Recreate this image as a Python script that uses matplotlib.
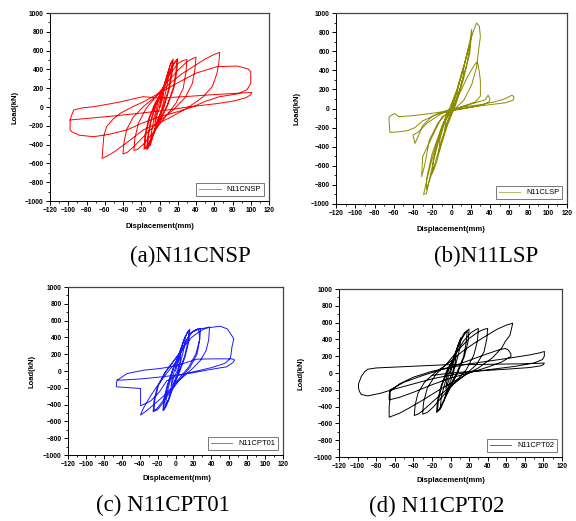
import numpy as np
import matplotlib.pyplot as plt

# ---- hysteresis paths (displacement mm, load kN) ----
loop_a = [
    (0, 0), (3, 110), (5, 190), (4, 110), (1, 10), (-2, -60), (-5, -180), (-4, -90), (-1, 20),
    (3, 130), (7, 270), (10, 390), (9, 270), (6, 120), (2, -40), (-3, -160), (-7, -300), (-10, -410),
    (-9, -280), (-6, -120), (-2, 40),
    (3, 170), (8, 330), (12, 460), (15, 510), (14, 380), (11, 200), (5, 0), (-2, -170), (-8, -330),
    (-12, -430), (-14, -455), (-13, -320), (-10, -160), (-4, 20),
    (3, 160), (8, 320), (12, 450), (14, 490), (13, 370), (10, 190), (4, 0), (-3, -170), (-8, -320),
    (-12, -420), (-13, -440), (-12, -300), (-9, -140), (-4, 30),
    (4, 200), (10, 360), (15, 460), (20, 515), (19, 380), (16, 210), (9, 20), (0, -160), (-8, -320),
    (-14, -420), (-17, -450), (-16, -300), (-12, -130), (-5, 40),
    (4, 180), (10, 340), (16, 460), (19, 500), (18, 370), (15, 200), (8, 10), (-1, -160), (-9, -330),
    (-14, -430), (-16, -440), (-15, -290), (-11, -120), (-4, 40),
    (4, 200), (12, 360), (20, 460), (26, 495), (30, 505), (29, 370), (26, 200), (18, 40), (6, -110),
    (-6, -260), (-17, -390), (-24, -450), (-28, -462), (-27, -330), (-23, -170), (-15, -20), (-4, 110),
    (8, 260), (20, 390), (30, 480), (36, 515), (40, 530), (39, 410), (36, 250), (28, 100), (15, -30),
    (0, -150), (-15, -290), (-27, -410), (-35, -480), (-40, -500), (-39, -380), (-36, -240), (-29, -110),
    (-17, 10), (-3, 120),
    (11, 250), (24, 350), (37, 430), (50, 510), (60, 560), (66, 580),
    (65, 470), (63, 358), (58, 220), (48, 110), (30, -14), (10, -120), (-18, -245), (-36, -380),
    (-50, -480), (-58, -525), (-63, -546),
    (-62, -420), (-61, -308), (-58, -209), (-51, -130), (-43, -67), (-30, 0), (-18, 53), (0, 150),
    (19, 252), (40, 360), (63, 429), (85, 436), (97, 405), (100, 375), (100, 300), (100, 250),
    (96, 185), (86, 140), (66, 110), (50, 60), (37, 3), (20, -50), (0, -103), (-20, -175), (-36, -245),
    (-55, -290), (-72, -316), (-88, -300), (-96, -265), (-98, -240), (-98, -190), (-98, -138),
    (-96, -80), (-94, -32), (-85, -10), (-72, 3), (-45, 50), (-18, 110),
    (0, 95), (30, 112), (60, 132), (90, 148), (101, 155), (100, 130), (95, 100), (82, 65), (62, 35),
    (35, 5), (10, -30), (-20, -65), (-50, -95), (-75, -118), (-92, -132), (-98, -138),
]

loop_b = [
    (0, 0), (4, 120), (7, 230), (6, 140), (2, 0), (-3, -100), (-7, -220), (-6, -130), (-1, -10),
    (5, 170), (10, 350), (13, 450), (12, 330), (6, 100), (1, -30), (-5, -170), (-10, -350), (-13, -450),
    (-12, -320), (-6, -100), (0, 0),
    (6, 200), (12, 420), (17, 610), (20, 700), (19, 580), (12, 290), (4, 30), (-4, -170), (-11, -390),
    (-16, -580), (-20, -680), (-19, -540), (-12, -250), (-3, -20),
    (7, 230), (14, 480), (19, 700), (21, 830), (21, 760), (16, 470), (7, 140), (-2, -90), (-10, -320),
    (-17, -570), (-23, -760), (-26, -850), (-26, -740), (-20, -470), (-9, -160), (0, 0),
    (8, 260), (15, 520), (21, 760), (26, 895), (29, 860), (30, 750), (28, 600), (26, 430), (21, 250),
    (13, 90), (4, 0), (-6, -90), (-13, -290), (-20, -520), (-25, -720), (-29, -900), (-26, -890),
    (-23, -740), (-16, -440), (-8, -150), (0, -20),
    (8, 150), (17, 340), (24, 460), (27, 490), (29, 380), (30, 290), (30, 130), (25, 70), (12, 20),
    (0, -30), (-10, -90), (-18, -250), (-25, -400), (-30, -505), (-31, -714), (-28, -600), (-23, -330),
    (-14, -150), (-4, -40),
    (10, 20), (25, 60), (35, 90), (38, 139), (40, 100), (39, 70), (33, 40), (20, 10), (5, -15),
    (-10, -50), (-25, -150), (-35, -250), (-40, -279), (-38, -366), (-35, -300), (-30, -180),
    (-20, -80), (-5, -20),
    (15, 20), (30, 40), (45, 70), (55, 100), (63, 139), (65, 120), (64, 87), (56, 60), (40, 40),
    (20, 15), (0, -20), (-20, -50), (-40, -75), (-55, -85), (-59, -52), (-64, -80), (-65, -100),
    (-64, -250), (-55, -245), (-45, -230), (-38, -200), (-30, -130), (-15, -60), (0, -20),
]

loop_c = [
    (0, 0), (3, 100), (6, 200), (5, 110), (2, 0), (-2, -80), (-5, -190), (-4, -100), (-1, 10),
    (3, 140), (7, 290), (11, 420), (10, 290), (6, 120), (2, -40), (-3, -180), (-7, -330), (-11, -430),
    (-10, -290), (-6, -120), (-2, 40),
    (3, 180), (9, 360), (14, 470), (16, 497), (15, 360), (11, 180), (5, 0), (-2, -180), (-8, -350),
    (-12, -450), (-14, -473), (-13, -330), (-9, -160), (-3, 20),
    (3, 170), (9, 350), (13, 460), (15, 485), (14, 350), (10, 170), (4, 0), (-3, -170), (-8, -340),
    (-12, -440), (-13, -460), (-12, -320), (-8, -150), (-3, 20),
    (5, 200), (12, 360), (18, 460), (23, 495), (28, 505), (27, 370), (24, 200), (16, 40), (5, -100),
    (-6, -250), (-14, -380), (-20, -460), (-25, -485), (-24, -350), (-20, -180), (-12, -20), (-2, 120),
    (6, 230), (13, 380), (19, 470), (26, 495), (27, 380), (23, 210), (15, 50), (4, -90), (-7, -240),
    (-15, -370), (-21, -450), (-24, -470), (-23, -340), (-19, -170), (-11, -10), (-2, 120),
    (8, 270), (18, 400), (28, 480), (34, 510), (38, 525), (37, 366), (34, 240), (28, 129), (20, 40),
    (13, -28), (0, -150), (-10, -267), (-22, -380), (-32, -470), (-39, -525),
    (-37, -470), (-35, -426), (-28, -300), (-21, -188), (-10, -30), (2, 128), (10, 300), (16, 445),
    (25, 500), (40, 520), (50, 533), (58, 500), (65, 386), (64, 330), (63, 287), (62, 200), (61, 149),
    (55, 90), (40, 40), (20, -10), (0, -60), (-10, -120), (-18, -250), (-28, -360), (-39, -414),
    (-39, -300), (-39, -208), (-50, -200), (-66, -188), (-66, -140), (-65, -109), (-54, -30),
    (-35, 10), (-17, 30), (0, 60), (24, 141), (45, 145), (63, 145), (66, 130), (64, 100), (57, 50),
    (40, 20), (20, -20), (0, -50), (-20, -75), (-40, -95), (-60, -108), (-65, -109),
]

loop_d = [
    (0, 0), (3, 120), (6, 220), (5, 120), (2, 0), (-2, -90), (-5, -190), (-4, -100), (-1, 10),
    (3, 150), (7, 300), (11, 420), (10, 290), (6, 120), (2, -40), (-3, -180), (-7, -330), (-11, -430),
    (-10, -290), (-6, -120), (-2, 40),
    (4, 200), (10, 380), (15, 480), (20, 522), (19, 380), (15, 200), (8, 10), (0, -170), (-7, -330),
    (-12, -440), (-15, -470), (-14, -330), (-10, -150), (-4, 30),
    (4, 190), (10, 360), (15, 460), (18, 500), (17, 370), (14, 190), (7, 10), (-1, -160), (-7, -320),
    (-12, -430), (-14, -455), (-13, -320), (-9, -140), (-3, 30),
    (6, 230), (14, 380), (22, 480), (27, 515), (30, 530), (29, 380), (25, 210), (17, 40), (5, -110),
    (-8, -270), (-18, -400), (-25, -470), (-30, -490), (-29, -350), (-25, -180), (-16, -20), (-4, 110),
    (8, 270), (20, 410), (30, 490), (36, 520), (40, 530), (39, 400), (36, 250), (28, 100), (14, -40),
    (0, -160), (-15, -300), (-27, -420), (-34, -485), (-39, -506), (-38, -380), (-35, -240),
    (-28, -110), (-16, 10), (-2, 120),
    (12, 250), (25, 350), (38, 440), (50, 520), (60, 570), (67, 593),
    (64, 450), (59, 375), (55, 296), (45, 180), (30, 60), (10, -60), (-12, -200), (-31, -330),
    (-45, -420), (-55, -480), (-66, -526),
    (-66, -400), (-65, -300), (-65, -221), (-55, -130), (-40, -50), (-20, 20), (0, 70), (20, 150),
    (40, 230), (52, 275), (59, 292), (62, 276), (65, 230), (65, 196), (55, 130), (40, 70), (20, 0),
    (0, -60), (-20, -140), (-40, -230), (-55, -290), (-66, -320),
    (-66, -260), (-65, -200), (-50, -110), (-30, -30), (-10, 40), (15, 100), (40, 140), (65, 180),
    (85, 215), (96, 240), (101, 256), (101, 200), (99, 160), (90, 120), (70, 80), (45, 45), (20, 10),
    (0, -25), (-20, -70), (-40, -130), (-60, -190), (-75, -240), (-89, -273), (-96, -255), (-98, -220),
    (-99, -180), (-99, -130), (-97, -70), (-96, -40), (-92, 20), (-89, 45), (-80, 60), (-50, 75),
    (-20, 90), (-6, 98),
    (20, 100), (50, 105), (80, 110), (101, 118), (100, 100), (97, 85), (85, 65), (60, 45), (30, 25),
    (0, 0), (-20, -30),
]

names = ['N11CNSP', 'N11CLSP', 'N11CPT01', 'N11CPT02']
colors = ['red', '#8c8c00', '#1a1aff', 'black']
captions = ['(a)N11CNSP', '(b)N11LSP', '(c) N11CPT01', '(d) N11CPT02']

# layout in pixels: axes boxes (left, top, right, bottom), label offsets, caption centres
boxes = [[50, 13, 269, 201], [336, 13, 567, 204], [68, 287, 283, 455], [339, 289, 562, 457]]
xlab_pos = [(0.502, -0.138), (0.498, -0.136), (0.507, -0.137), (0.502, -0.137)]
ylab_pos = [-0.16, -0.169, -0.167, -0.17]
caption_pos = [(190, 256), (486, 256), (163, 505), (437, 506)]

W, H = 576, 521
fig = plt.figure(figsize=(W / 100, H / 100), dpi=100)
sans = 'Liberation Sans'

for i, loop in enumerate([loop_a, loop_b, loop_c, loop_d]):
    x, y = zip(*loop)
    l, t, r, b = boxes[i]
    ax = fig.add_axes([l / W, 1 - b / H, (r - l) / W, (b - t) / H])
    ax.plot(x, y, color=colors[i], lw=0.7, label=names[i])
    ax.set_xlim(-120, 120)
    ax.set_ylim(-1000, 1000)
    ax.set_xticks(np.arange(-120, 121, 20))
    ax.set_yticks(np.arange(-1000, 1001, 200))
    ax.set_xticks(np.arange(-110, 120, 20), minor=True)
    ax.set_yticks(np.arange(-900, 1000, 200), minor=True)
    ax.tick_params(which='major', direction='out', length=3, width=0.7, pad=1.5,
                   labelsize=4.8, top=False, right=False)
    ax.tick_params(which='minor', direction='out', length=1.5, width=0.6, top=False, right=False)
    for lab in ax.get_xticklabels() + ax.get_yticklabels():
        lab.set_fontfamily(sans)
        lab.set_fontweight('bold')
    for s in ['left', 'bottom']:
        ax.spines[s].set_color('black')
        ax.spines[s].set_linewidth(0.7)
    for s in ['top', 'right']:
        ax.spines[s].set_color('#444444')
        ax.spines[s].set_linewidth(0.9)
    ax.set_xlabel('Displacement(mm)', fontsize=5.5, fontweight='bold', family=sans, va='center')
    ax.xaxis.set_label_coords(*xlab_pos[i])
    ax.set_ylabel('Load(kN)', fontsize=5.5, fontweight='bold', family=sans, va='center')
    ax.yaxis.set_label_coords(ylab_pos[i], 0.5)
    leg = ax.legend(loc='lower right', frameon=True, fancybox=False,
                    handlelength=2.8, borderpad=0.4, borderaxespad=0.6,
                    prop={'family': sans, 'size': 5.5})
    leg.get_frame().set_edgecolor('#555555')
    leg.get_frame().set_linewidth(0.7)
    for line in leg.get_lines():
        line.set_alpha(0.6)

for txt, (cx, cy) in zip(captions, caption_pos):
    fig.text(cx / W, 1 - cy / H, txt, ha='center', va='center',
             family='Liberation Serif', fontsize=16.5)

fig.savefig('out.png', dpi=100)
